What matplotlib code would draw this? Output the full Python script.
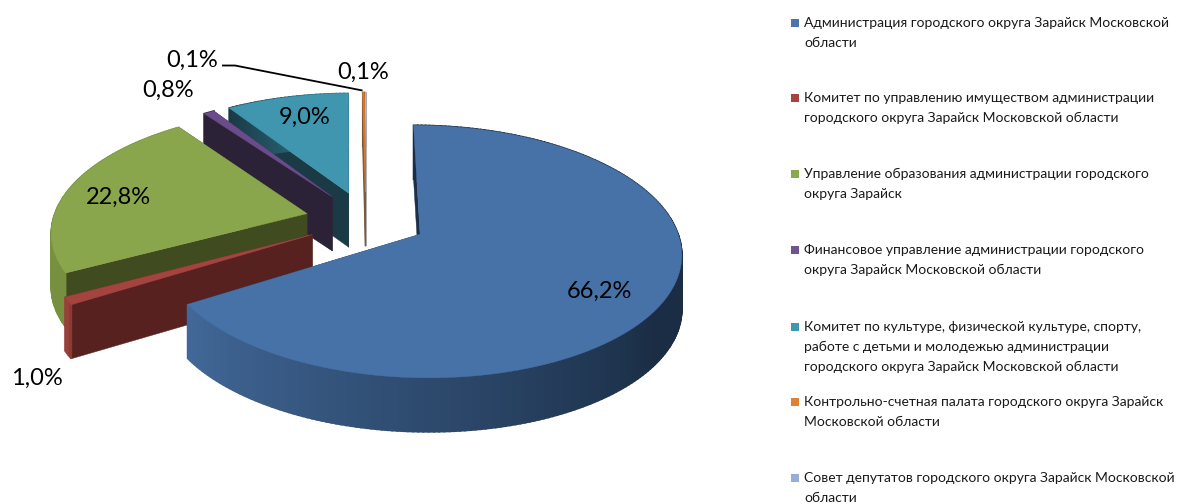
import numpy as np
import matplotlib
matplotlib.use('Agg')
import matplotlib.pyplot as plt
from matplotlib.colors import to_rgb
from matplotlib.patches import Polygon, Rectangle

plt.rcParams['font.family'] = ['Lato', 'Noto Sans', 'DejaVu Sans']

shares = [66.2, 1.0, 22.8, 0.8, 9.0, 0.1, 0.1]
value_labels = ['66,2%', '1,0%', '22,8%', '0,8%', '9,0%', '0,1%', '0,1%']
categories = [
    ['Администрация городского округа Зарайск Московской', 'области'],
    ['Комитет по управлению имуществом администрации', 'городского округа Зарайск Московской области'],
    ['Управление образования администрации городского', 'округа Зарайск'],
    ['Финансовое управление администрации городского', 'округа Зарайск Московской области'],
    ['Комитет по культуре, физической культуре, спорту,', 'работе с детьми и молодежью администрации',
     'городского округа Зарайск Московской области'],
    ['Контрольно-счетная палата городского округа Зарайск', 'Московской области'],
    ['Совет депутатов городского округа Зарайск Московской', 'области'],
]
legend_colors = ['#4a76ad', '#a8443f', '#8ca84f', '#6f5490', '#3f97b0', '#dd8233', '#95aed3']
top_colors = ['#4772a8', '#a5443f', '#8aa64c', '#6a4c8a', '#3f96ae', '#d9762a', '#9fb9dc']
radial_colors = ['#1b3048', '#56211f', '#404b20', '#2c2238', '#1a3a46', '#7a5a3a', '#a0a0a0']
rim_light = ['#42699a', '#a8443f', '#7b9444', '#5a4075', '#357f93', '#b06020', '#8aa0c0']
rim_dark = ['#1a2d44', '#8d3a35', '#76903f', '#2c2238', '#1a3a46', '#7a5a3a', '#a0a0a0']

# проекция: перспектива на плоскость картинки, координаты в пикселях
cx, cy = 366, 220
a, b, k = 254, 120, 0.135
depth = 54
explode = 0.24


def project(x, y, z=0.0):
    w = 1 + k * y
    return cx + a * x / w, cy - b * y / w + depth * z


def rim(start, end, ox, oy, z=0.0):
    n = max(int(abs(end - start)), 2)
    t = np.radians(np.linspace(start, end, n))
    return project(ox + np.sin(t), oy + np.cos(t), z)


fig = plt.figure(figsize=(11.89, 5.04), dpi=100)
ax = fig.add_axes([0, 0, 1, 1])
ax.set_xlim(0, 1189)
ax.set_ylim(504, 0)
ax.axis('off')

edges = np.concatenate([[0], np.cumsum(shares)]) / sum(shares) * 360
draw_order = [6, 5, 4, 3, 2, 1, 0]

for i in draw_order:
    start, end = edges[i], edges[i + 1]
    mid = np.radians((start + end) / 2)
    ox, oy = explode * np.sin(mid), explode * np.cos(mid)
    lw = 0.8 if shares[i] < 0.5 else 0.3

    # боковые грани вдоль радиусов
    for angle in (end, start):
        t = np.radians(angle)
        x0, y0 = project(ox, oy)
        x1, y1 = project(ox + np.sin(t), oy + np.cos(t))
        x2, y2 = project(ox + np.sin(t), oy + np.cos(t), 1)
        x3, y3 = project(ox, oy, 1)
        ax.add_patch(Polygon([(x0, y0), (x1, y1), (x2, y2), (x3, y3)], closed=True,
                             fc=radial_colors[i], ec=radial_colors[i], lw=lw))

    # внешняя стенка с градиентом
    xs, ys = rim(start, end, ox, oy)
    xb, yb = rim(start, end, ox, oy, 1)
    c0, c1 = np.array(to_rgb(rim_dark[i])), np.array(to_rgb(rim_light[i]))
    for j in range(len(xs) - 1):
        f = j / (len(xs) - 1)
        if i == 0:
            f = np.clip(((end * f) - 125) / (end - 125), 0, 1)
        col = c0 + (c1 - c0) * f
        ax.add_patch(Polygon([(xs[j], ys[j]), (xs[j + 1], ys[j + 1]), (xb[j + 1], yb[j + 1]), (xb[j], yb[j])],
                             closed=True, fc=col, ec=col, lw=1.2))

    # верхняя грань
    x0, y0 = project(ox, oy)
    ax.add_patch(Polygon(np.column_stack([np.r_[x0, xs], np.r_[y0, ys]]), closed=True,
                         fc=top_colors[i], ec=top_colors[i], lw=lw))

label_pos = [(599, 291), (37, 378), (118, 197), (168, 90), (305, 117), (192, 60), (363, 72)]
for text, (lx, ly) in zip(value_labels, label_pos):
    ax.text(lx, ly, text, fontsize=17, ha='center', va='center', color='black')

ax.plot([222, 235, 362.5], [65.5, 65.5, 90.5], color='black', lw=1.3, solid_capstyle='butt')

legend_y = [23, 98, 174, 250, 327, 402, 478]
for lines, color, y in zip(categories, legend_colors, legend_y):
    ax.add_patch(Rectangle((791, y - 4), 8, 8, fc=color, ec='none'))
    for n, line in enumerate(lines):
        ax.text(804, y + 20 * n, line, fontsize=10, ha='left', va='center', color='#1a1a1a')

fig.savefig('out.png', dpi=100)
